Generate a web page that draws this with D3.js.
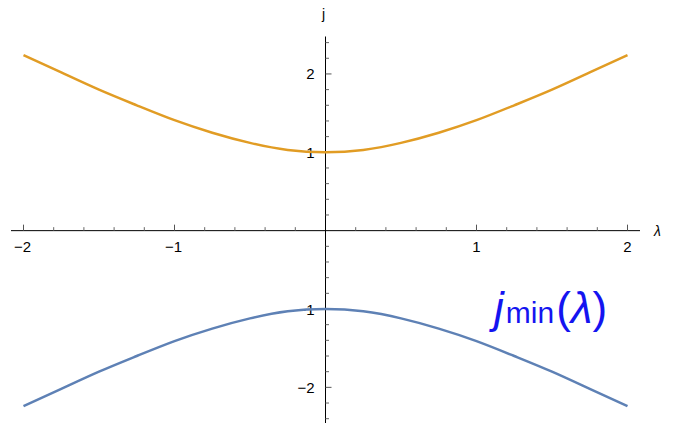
<!DOCTYPE html>
<html>
<head>
<meta charset="utf-8">
<script src="https://cdn.jsdelivr.net/npm/d3@7"></script>
<style>
  body { margin: 0; background: #fff; }
</style>
</head>
<body>
<div id="chart"></div>
<script>
// values
const lambdas = [-2, -1.75, -1.5, -1.25, -1, -0.75, -0.5, -0.25, 0, 0.25, 0.5, 0.75, 1, 1.25, 1.5, 1.75, 2];
const jUpper = [2.24, 2.02, 1.80, 1.60, 1.41, 1.25, 1.12, 1.03, 1.00, 1.03, 1.12, 1.25, 1.41, 1.60, 1.80, 2.02, 2.24];
const jLower = [-2.24, -2.02, -1.80, -1.60, -1.41, -1.25, -1.12, -1.03, -1.00, -1.03, -1.12, -1.25, -1.41, -1.60, -1.80, -2.02, -2.24];
const xTicks = [-2, -1, 1, 2];
const yTicks = [-2, -1, 1, 2];

const width = 676, height = 424;
const font = "'Liberation Sans', Arial, Helvetica, sans-serif";

const svg = d3.select("#chart").append("svg")
  .attr("width", width)
  .attr("height", height)
  .attr("font-family", font);

const x = d3.scaleLinear().domain([-2, 2]).range([23.5, 627.5]);
const y = d3.scaleLinear().domain([-1, 1]).range([309, 152.3]);

// minor ticks every 0.2
const xMinor = d3.range(-2, 2.01, 0.2).map(v => +v.toFixed(1)).filter(v => !xTicks.includes(v) && v !== 0);
const yMinor = d3.range(-2.4, 2.41, 0.2).map(v => +v.toFixed(1)).filter(v => !yTicks.includes(v) && v !== 0);

// x axis
svg.append("line")
  .attr("x1", 11).attr("x2", 640)
  .attr("y1", y(0)).attr("y2", y(0))
  .attr("stroke", "#000").attr("stroke-width", 1);

svg.selectAll(".xmaj").data(xTicks).enter().append("line")
  .attr("x1", d => x(d)).attr("x2", d => x(d))
  .attr("y1", y(0)).attr("y2", y(0) - 6)
  .attr("stroke", "#555").attr("stroke-width", 1);

svg.selectAll(".xmin").data(xMinor).enter().append("line")
  .attr("x1", d => x(d)).attr("x2", d => x(d))
  .attr("y1", y(0)).attr("y2", y(0) - 3.5)
  .attr("stroke", "#666").attr("stroke-width", 1);

svg.selectAll(".xlab").data(xTicks).enter().append("text")
  .attr("x", d => x(d) + (d < 0 ? -1 : 0))
  .attr("y", y(0) + 21)
  .attr("text-anchor", "middle")
  .attr("font-size", 15)
  .text(d => d < 0 ? "\u2212" + Math.abs(d) : d);

// y axis
svg.append("line")
  .attr("x1", x(0)).attr("x2", x(0))
  .attr("y1", 36.5).attr("y2", 423)
  .attr("stroke", "#000").attr("stroke-width", 1);

svg.selectAll(".ymaj").data(yTicks).enter().append("line")
  .attr("x1", x(0)).attr("x2", x(0) + 6)
  .attr("y1", d => y(d)).attr("y2", d => y(d))
  .attr("stroke", "#555").attr("stroke-width", 1);

svg.selectAll(".ymin").data(yMinor).enter().append("line")
  .attr("x1", x(0)).attr("x2", x(0) + 3.5)
  .attr("y1", d => y(d)).attr("y2", d => y(d))
  .attr("stroke", "#666").attr("stroke-width", 1);

svg.selectAll(".ylab").data(yTicks).enter().append("text")
  .attr("x", x(0) - 11)
  .attr("y", d => y(d) + 5.5)
  .attr("text-anchor", "end")
  .attr("font-size", 15)
  .text(d => d < 0 ? "\u2212" + Math.abs(d) : d);

// axis labels
svg.append("text")
  .attr("x", x(0) - 2).attr("y", 19)
  .attr("text-anchor", "middle")
  .attr("font-size", 14)
  .text("j");

svg.append("text")
  .attr("x", 654).attr("y", y(0) + 5)
  .attr("font-size", 14)
  .attr("font-style", "italic")
  .text("\u03bb");

// curves
const line = d3.line()
  .x((d, i) => x(lambdas[i]))
  .y(d => y(d))
  .curve(d3.curveNatural);

svg.append("path")
  .datum(jUpper)
  .attr("d", line)
  .attr("fill", "none")
  .attr("stroke", "#E19C24")
  .attr("stroke-width", 2.5);

svg.append("path")
  .datum(jLower)
  .attr("d", line)
  .attr("fill", "none")
  .attr("stroke", "#5E81B5")
  .attr("stroke-width", 2.5);

// annotation
const ann = svg.append("text")
  .attr("x", 494).attr("y", 323)
  .attr("fill", "#1414f0")
  .attr("font-size", 44);
ann.append("tspan").attr("font-style", "italic").text("j");
ann.append("tspan").attr("font-size", 30).attr("dx", 2).text("min");
ann.append("tspan").attr("dx", 2).text("(");
ann.append("tspan").attr("font-style", "italic").text("\u03bb");
ann.append("tspan").text(")");
</script>
</body>
</html>
